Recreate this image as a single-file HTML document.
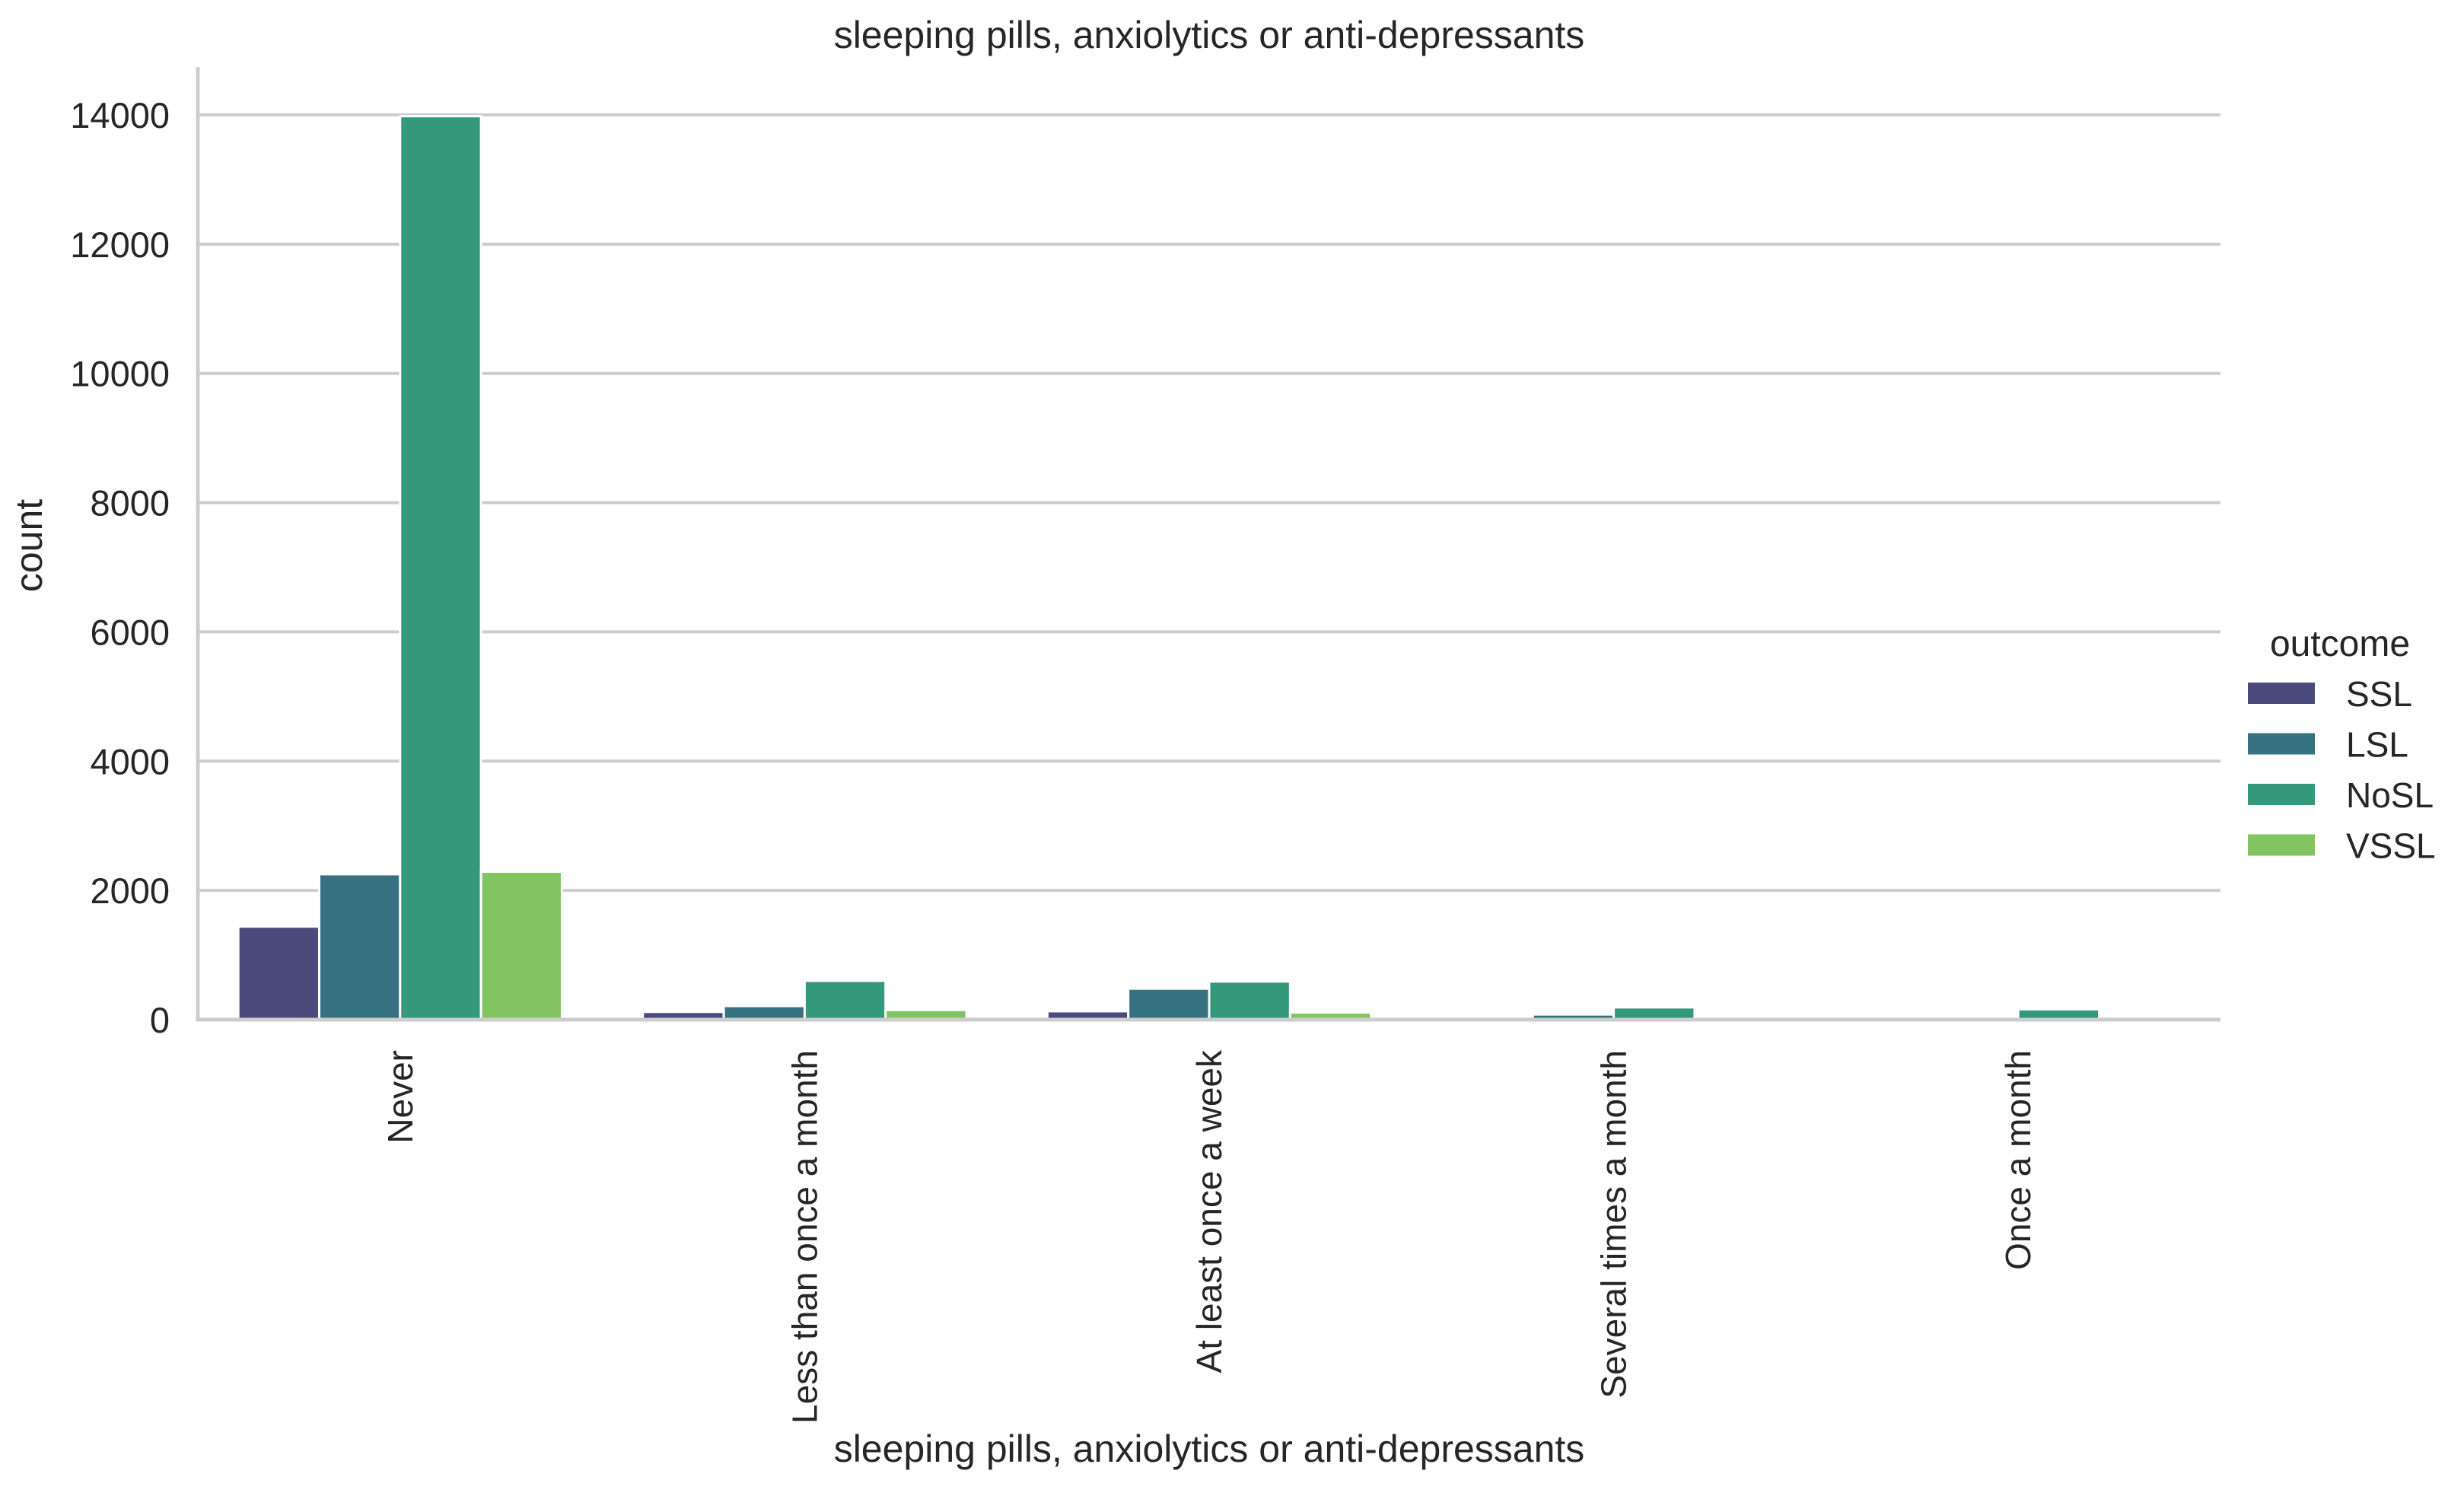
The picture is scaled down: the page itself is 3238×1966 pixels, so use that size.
<!DOCTYPE html>
<html><head><meta charset="utf-8"><style>
body{margin:0;background:#fff}
svg text{font-family:"Liberation Sans",Arial,sans-serif;fill:#262626}
</style></head><body>
<svg id="chart" width="3238" height="1961" viewBox="0 0 3238 1961" xmlns="http://www.w3.org/2000/svg">
<g id="grid"></g>
<g id="bars"></g>
<g id="axes"></g>
<text x="1589" y="63" font-size="50" text-anchor="middle">sleeping pills, anxiolytics or anti-depressants</text>
<text x="1589" y="1921" font-size="50" text-anchor="middle">sleeping pills, anxiolytics or anti-depressants</text>
<text transform="translate(55,717) rotate(-90)" font-size="50" text-anchor="middle">count</text>
<g id="legend">
<text x="3075" y="862" font-size="48" text-anchor="middle">outcome</text>
</g>
</svg>
<script>
const categories=["Never","Less than once a month","At least once a week","Several times a month","Once a month"];
const seriesNames=["SSL","LSL","NoSL","VSSL"];
const colors=["#4a4b7b","#367180","#34987b","#82c362"];
const ssl=[1440,120,130,15,8];
const lsl=[2250,210,480,80,40];
const nosl=[13980,600,590,190,160];
const vssl=[2290,150,110,40,12];
const yTicks=[0,2000,4000,6000,8000,10000,12000,14000];
const series=[ssl,lsl,nosl,vssl];
const NS="http://www.w3.org/2000/svg";
const x0=260,x1=2918,y0=1340,pxPer=(1340-151)/14000;
const bw=(x1-x0)/categories.length;
function yS(v){return y0-v*pxPer;}
function xS(i){return x0+bw*(i+0.5);}
function mk(t,a,p){const e=document.createElementNS(NS,t);for(const k in a)e.setAttribute(k,a[k]);p.appendChild(e);return e;}
const grid=document.getElementById('grid'),bars=document.getElementById('bars'),axes=document.getElementById('axes'),leg=document.getElementById('legend');
yTicks.forEach(v=>{
  const l=mk('line',{x1:x0,x2:x1,y1:yS(v),y2:yS(v),stroke:'#cccccc','stroke-width':4},grid);
  
  
  const t=mk('text',{x:223,y:yS(v)+17,'font-size':47,'text-anchor':'end'},axes);
  t.textContent=v;
  
  
});
const w=bw*0.8/series.length;
series.forEach((s,j)=>{
  s.forEach((v,i)=>{
    const x=xS(i)-bw*0.4+j*w;
    const r=mk('rect',{x:x,y:yS(v),width:w,height:y0-yS(v),fill:colors[j],stroke:'#fff','stroke-width':3},bars);
    
    
  });
});
const la=mk('line',{x1:x0,x2:x0,y1:88,y2:y0+2,stroke:'#cccccc','stroke-width':5},axes);


const lb=mk('line',{x1:x0-2,x2:x1,y1:y0,y2:y0,stroke:'#cccccc','stroke-width':5},axes);


categories.forEach((c,i)=>{
  const t=mk('text',{transform:`translate(${xS(i)+16},1380) rotate(-90)`,'font-size':46,'text-anchor':'end'},axes);
  t.textContent=c;
  
  
});
seriesNames.forEach((n,j)=>{
  const cy=911+j*66.5;
  const r=mk('rect',{x:2954,y:cy-14,width:88,height:28,fill:colors[j]},leg);
  
  
  const t=mk('text',{x:3083,y:cy+17,'font-size':46},leg);
  t.textContent=n;
  
  
});
</script>
</body></html>
